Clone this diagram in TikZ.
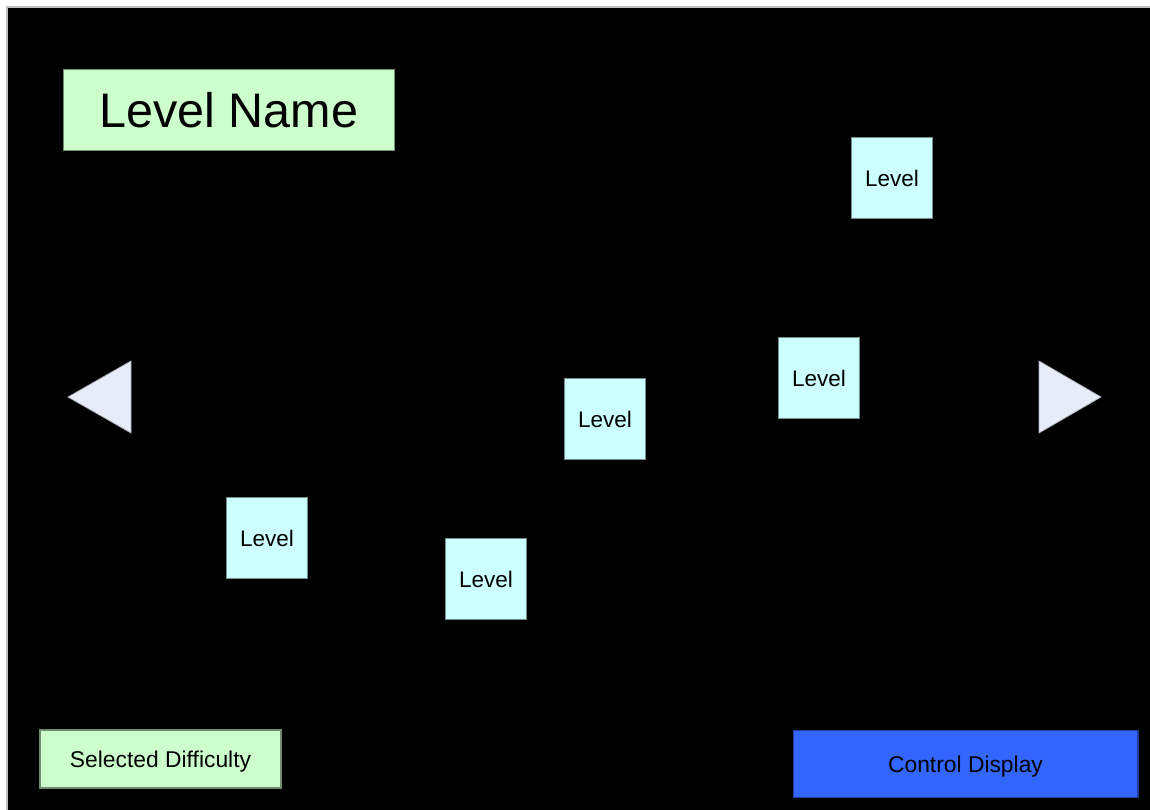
\documentclass[tikz,border=0pt]{standalone}
\usepackage{fontspec}
\setmainfont{Liberation Sans}
\definecolor{panelgreen}{HTML}{CCFFCC}
\definecolor{panelcyan}{HTML}{CCFFFF}
\definecolor{arrowfill}{HTML}{E6ECF8}
\definecolor{controlblue}{HTML}{3366FF}
\tikzset{
  levelbox/.style={draw=black!45!panelcyan, fill=panelcyan, line width=0.6pt,
    minimum width=1.62cm, minimum height=1.62cm, inner sep=0pt, font=\fontsize{12.8}{15}\selectfont},
  greenbox/.style={draw=black!45!panelgreen, fill=panelgreen, line width=0.6pt, inner sep=0pt},
  arrowtri/.style={draw=black!25!arrowfill, fill=arrowfill, line width=0.4pt},
  lowtext/.style={text height=11.8pt, text depth=2.7pt}
}
\begin{document}
\begin{tikzpicture}[x=0.02cm, y=-0.02cm]
\useasboundingbox (0,0) rectangle (1150,809);
\fill[white] (0,0) rectangle (1150,809);
\filldraw[fill=black, draw=black!25, line width=0.6pt] (7,7) rectangle (1160,820);
% title
\node[greenbox, minimum width=6.64cm, minimum height=1.62cm, font=\fontsize{27.6}{32}\selectfont] (levelname) at (229,110) {Level Name};
% levels
\node[levelbox] (levelA) at (892,178) {Level};
\node[levelbox] (levelB) at (819,378) {Level};
\node[levelbox] (levelC) at (605,419) {Level};
\node[levelbox] (levelD) at (267,538) {Level};
\node[levelbox] (levelE) at (486,579) {Level};
% arrows
\draw[arrowtri] (68,397) -- (131,361) -- (131,433) -- cycle;
\draw[arrowtri] (1101,397) -- (1039,361) -- (1039,433) -- cycle;
% bottom
\node[greenbox, lowtext, minimum width=4.82cm, minimum height=1.16cm, font=\fontsize{13}{15}\selectfont] (difficulty) at (160.5,759) {Selected Difficulty};
\node[draw=black!40!controlblue, fill=controlblue, lowtext, line width=0.6pt, inner sep=0pt, minimum width=6.9cm, minimum height=1.34cm, font=\fontsize{13}{15}\selectfont] (control) at (965.5,764) {Control Display};
\end{tikzpicture}
\end{document}
